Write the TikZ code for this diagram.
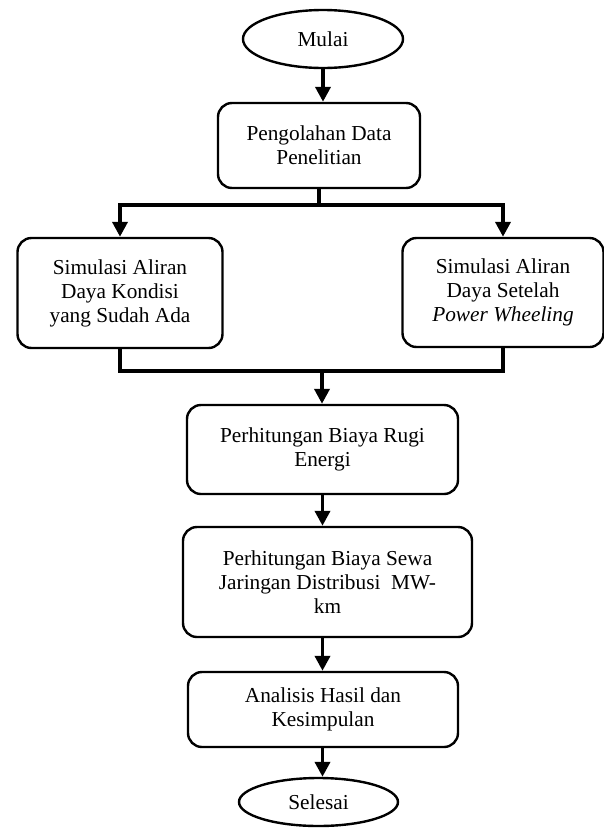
\documentclass[tikz,border=0pt]{standalone}
\usepackage{fontspec}
\setmainfont{Liberation Serif}
\usetikzlibrary{shapes.geometric,arrows.meta}
\begin{document}
\begin{tikzpicture}[x=1pt,y=-1pt,
  txt/.style={font=\fontsize{21.3}{24}\selectfont},
  box/.style={txt,draw,line width=2.4pt,rounded corners=14pt,align=center,inner sep=0pt},
  oval/.style={txt,draw,ellipse,line width=2.4pt,inner sep=0pt},
  conn/.style={line width=3.8pt},
  arr/.style={conn,-{Triangle[length=15pt,width=15pt]}}]
\useasboundingbox (0,0) rectangle (604,828);
\node[oval,minimum width=160pt,minimum height=58pt] (start) at (323,39) {Mulai};
\node[box,minimum width=202pt,minimum height=85pt] (p1) at (319,145.5) {Pengolahan Data\\Penelitian};
\node[box,minimum width=205pt,minimum height=110pt] (l) at (120,293) {Simulasi Aliran\\Daya Kondisi\\yang Sudah Ada};
\node[box,minimum width=201pt,minimum height=109pt] (r) at (503,292.5) {Simulasi Aliran\\Daya Setelah\\\textit{Power Wheeling}};
\node[box,minimum width=271pt,minimum height=89pt] (rugi) at (322.5,449.5) {Perhitungan Biaya Rugi\\Energi};
\node[box,minimum width=289pt,minimum height=110pt] (sewa) at (327.5,582) {Perhitungan Biaya Sewa\\Jaringan Distribusi~ MW-\\km};
\node[box,minimum width=270pt,minimum height=75pt] (an) at (323,709.5) {Analisis Hasil dan\\Kesimpulan};
\node[oval,minimum width=159pt,minimum height=48pt] (end) at (318.5,802) {Selesai};
\coordinate (sp) at (319,205);
\coordinate (jn) at (322,371);
\draw[arr] (start.south) -- (start.south |- p1.north);
\draw[conn] (p1.south) -- (sp);
\draw[arr] (sp) -| (l.north);
\draw[arr] (sp) -| (r.north);
\draw[conn] (l.south) |- (jn);
\draw[conn] (r.south) |- (jn);
\draw[arr] (jn) -- (jn |- rugi.north);
\draw[arr] (rugi.south) -- (rugi.south |- sewa.north);
\draw[arr] (rugi.south |- sewa.south) -- (rugi.south |- an.north);
\draw[arr] (rugi.south |- an.south) -- (rugi.south |- end.north);
\end{tikzpicture}
\end{document}
